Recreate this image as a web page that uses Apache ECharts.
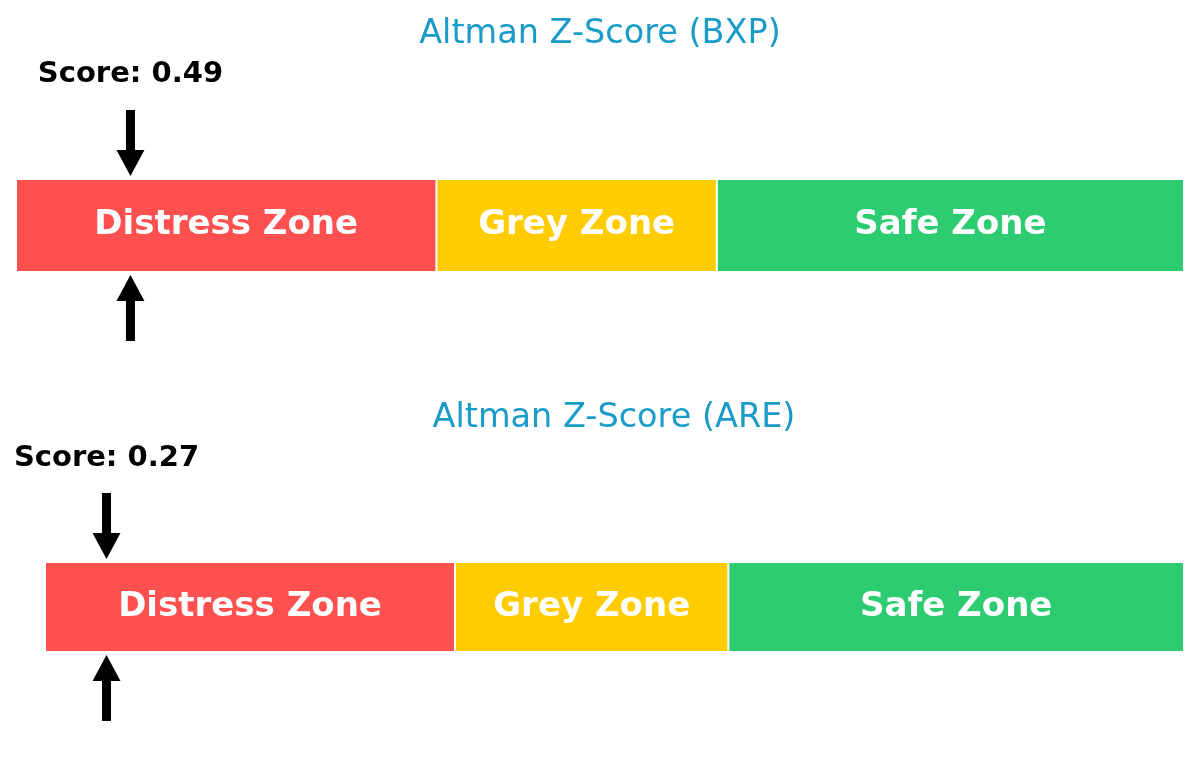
<!DOCTYPE html>
<html>
<head>
    <meta charset="utf-8" />
    <title>Altman Z-Score</title>
    <style>
        html, body { margin: 0; padding: 0; background: #fff; }
    </style>
</head>
<body>
<script src="https://cdn.jsdelivr.net/npm/echarts@6.0.0/dist/echarts.min.js"></script>
<div id="main" style="width: 1200px;height:765px;"></div>
<script type="text/javascript">
    // zone data: width of each zone on the Z-score axis
    var zoneNames = ['Distress Zone', 'Grey Zone', 'Safe Zone'];
    var zoneWidths = [1.8, 1.2, 2.0];
    var zoneColors = ['#FF5050', '#FFCC00', '#2ECC71'];
    var tickers = ['BXP', 'ARE'];
    var scores = [0.49, 0.27];
    var axisMax = 5;

    var font = 'DejaVu Sans';
    var myChart = echarts.init(document.getElementById('main'));

    // grid positions for the two panels
    var grids = [
        { left: 16, right: 16, top: 179, height: 93 },
        { left: 45, right: 16, top: 562, height: 90 }
    ];
    // how far the score text sits above each bar
    var textOffsets = [105, 104];

    var xAxes = [], yAxes = [], series = [];

    grids.forEach(function (g, gi) {
        xAxes.push({ type: 'value', gridIndex: gi, min: 0, max: axisMax, show: false });
        yAxes.push({ type: 'category', gridIndex: gi, data: [tickers[gi]], show: false });

        zoneNames.forEach(function (name, zi) {
            series.push({
                name: name,
                type: 'bar',
                stack: 'zones' + gi,
                xAxisIndex: gi,
                yAxisIndex: gi,
                barWidth: '100%',
                silent: true,
                itemStyle: { color: zoneColors[zi], borderColor: '#fff', borderWidth: 1 },
                label: {
                    show: true,
                    position: 'inside',
                    formatter: name,
                    color: '#fff',
                    fontFamily: font,
                    fontWeight: 'bold',
                    fontSize: 34
                },
                data: [zoneWidths[zi]]
            });
        });

        // score marker: arrows above and below the bar plus the score text
        series.push({
            type: 'custom',
            xAxisIndex: gi,
            yAxisIndex: gi,
            silent: true,
            z: 10,
            data: [[scores[gi], 0]],
            renderItem: function (params, api) {
                var c = api.coord([api.value(0), api.value(1)]);
                var h = api.size([0, 1])[1];
                var x = c[0];
                var top = c[1] - h / 2;
                var bot = c[1] + h / 2;
                var shaftW = 9, headW = 28, headL = 26, len = 66, gap = 3;
                function arrow(tipY, dir) {
                    // dir = 1 pointing down, -1 pointing up
                    var baseY = tipY - dir * headL;
                    var endY = tipY - dir * len;
                    return {
                        type: 'polygon',
                        shape: {
                            points: [
                                [x, tipY],
                                [x - headW / 2, baseY],
                                [x - shaftW / 2, baseY],
                                [x - shaftW / 2, endY],
                                [x + shaftW / 2, endY],
                                [x + shaftW / 2, baseY],
                                [x + headW / 2, baseY]
                            ]
                        },
                        style: { fill: '#000' }
                    };
                }
                return {
                    type: 'group',
                    children: [
                        arrow(top - gap, 1),
                        arrow(bot + gap, -1),
                        {
                            type: 'text',
                            style: {
                                text: 'Score: ' + api.value(0).toFixed(2),
                                x: x,
                                y: top - textOffsets[gi],
                                align: 'center',
                                verticalAlign: 'middle',
                                fill: '#000',
                                fontFamily: font,
                                fontWeight: 'bold',
                                fontSize: 29
                            }
                        }
                    ]
                };
            }
        });
    });

    var titles = [
        { text: 'Altman Z-Score (' + tickers[0] + ')', left: 595, top: 12 },
        { text: 'Altman Z-Score (' + tickers[1] + ')', left: 609, top: 396 }
    ].map(function (t) {
        t.textAlign = 'center';
        t.textStyle = { color: '#1A9BC8', fontFamily: font, fontWeight: 'normal', fontSize: 33.5 };
        return t;
    });

    var option = {
        animation: false,
        title: titles,
        grid: grids,
        xAxis: xAxes,
        yAxis: yAxes,
        series: series
    };

    myChart.setOption(option);
</script>
</body>
</html>
